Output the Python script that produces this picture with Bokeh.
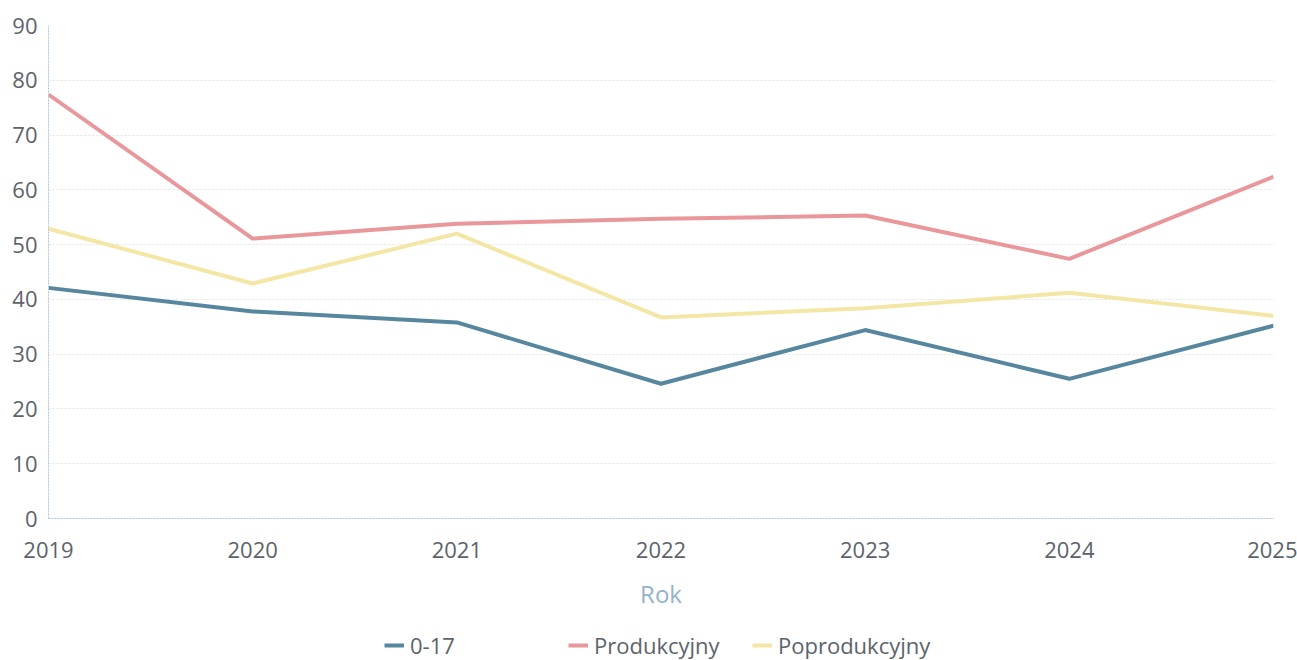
from bokeh.plotting import figure
from bokeh.models import Range1d, Legend, LegendItem, FixedTicker
from bokeh.layouts import column
from bokeh.embed import file_html
from bokeh.resources import INLINE

years = [2019, 2020, 2021, 2022, 2023, 2024, 2025]
s_0_17 = [42.1, 37.8, 35.8, 24.6, 34.4, 25.5, 35.2]
s_prod = [77.4, 51.1, 53.8, 54.7, 55.3, 47.4, 62.4]
s_poprod = [52.9, 42.9, 52.0, 36.7, 38.4, 41.2, 37.0]
y_ticks = [0, 10, 20, 30, 40, 50, 60, 70, 80, 90]

names = ["0-17", "Produkcyjny", "Poprodukcyjny"]
colors = ["#56879e", "#e9979b", "#f4e7a6"]

FONT = "Open Sans"
TXT = "#5c636b"

p = figure(frame_width=1225, frame_height=493, output_backend="svg", toolbar_location=None,
           x_range=Range1d(2019, 2025), y_range=Range1d(0, 90),
           min_border_left=48, min_border_right=24, min_border_top=25, min_border_bottom=106)
p.outline_line_color = None

for ys, c in zip([s_0_17, s_prod, s_poprod], colors):
    p.line(years, ys, line_color=c, line_width=4, line_join="round")

p.xaxis.ticker = FixedTicker(ticks=years)
p.yaxis.ticker = FixedTicker(ticks=y_ticks)
for ax in (p.xaxis, p.yaxis):
    ax.major_label_text_font = FONT
    ax.major_label_text_font_size = "22px"
    ax.major_label_text_color = TXT
    ax.major_tick_line_color = None
    ax.major_tick_out = 0
    ax.major_tick_in = 0
    ax.minor_tick_line_color = None
    ax.minor_tick_out = 0
    ax.axis_line_color = "#a9c7dd"
    ax.axis_line_dash = "2 1"
    ax.axis_line_width = 1
p.yaxis.major_label_standoff = 11
p.xaxis.major_label_standoff = 23
p.xaxis.axis_label = "Rok"
p.xaxis.axis_label_text_font = FONT
p.xaxis.axis_label_text_font_style = "normal"
p.xaxis.axis_label_text_font_size = "24px"
p.xaxis.axis_label_text_color = "#93b3c9"
p.xaxis.axis_label_standoff = 16

p.xgrid.grid_line_color = None
p.ygrid.grid_line_color = "#e4e4e4"
p.ygrid.grid_line_dash = "2 2"

# legend strip
lg = figure(width=1297, height=36, output_backend="svg", toolbar_location=None,
            x_range=Range1d(0, 1), y_range=Range1d(0, 1),
            x_axis_location=None, y_axis_location=None,
            min_border_left=0, min_border_right=0, min_border_top=0, min_border_bottom=0)
lg.grid.visible = False
lg.outline_line_color = None
items = []
for n, c in zip(names, colors):
    r = lg.line([float("nan")], [float("nan")], line_color=c, line_width=4)
    items.append(LegendItem(label=n, renderers=[r]))
legend = Legend(items=items, orientation="horizontal", location=(336, 0),
                label_text_font=FONT, label_text_font_size="22px", label_text_color=TXT,
                glyph_width=20, label_standoff=6, label_width=150, spacing=8,
                border_line_color=None, background_fill_alpha=0, margin=0, padding=4)
lg.add_layout(legend)

layout = column(p, lg, spacing=0)
open("out.html", "w").write(file_html(layout, INLINE))
